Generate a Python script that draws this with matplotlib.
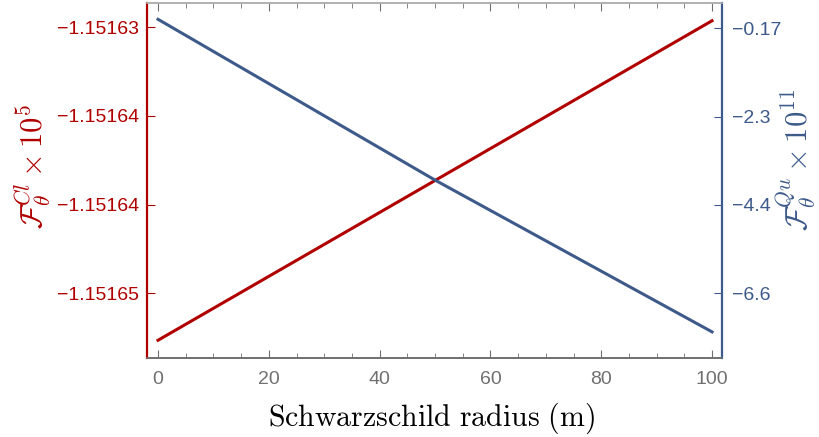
import matplotlib
matplotlib.use("Agg")
import matplotlib.pyplot as plt
from matplotlib.ticker import MultipleLocator

plt.rcParams['mathtext.fontset'] = 'cm'

# data
radius = [0, 50, 100]
f_classical = [-1.1516547, -1.1516421, -1.1516295]   # x 10^5
f_quantum = [0.047, -3.83, -7.49]                     # x 10^11

left_ticks = [-1.151630, -1.151637, -1.151644, -1.151651]
left_labels = ['\u22121.15163', '\u22121.15164', '\u22121.15164', '\u22121.15165']
right_ticks = [-0.17, -2.30, -4.43, -6.56]
right_labels = ['\u22120.17', '\u22122.3', '\u22124.4', '\u22126.6']
x_ticks = [0, 20, 40, 60, 80, 100]

red = '#B00000'
blue = '#3D5A8A'
gray = '#707070'

fig = plt.figure(figsize=(8.19, 4.37), dpi=100)
ax = fig.add_axes([147/819, 1-358/437, (722-147)/819, (358-3)/437])
ax2 = ax.twinx()

ax.plot(radius, f_classical, color=red, lw=2.2, zorder=3)
ax2.plot(radius, f_quantum, color=blue, lw=2.2)

ax.set_xlim(-1.99, 101.8)
ax.set_ylim(-1.1516561, -1.1516281)
ax2.set_ylim(-8.12, 0.44)

ax.set_xticks(x_ticks)
ax.set_xticklabels([str(t) for t in x_ticks])
ax.xaxis.set_minor_locator(MultipleLocator(5))
ax.tick_params(axis='x', which='both', direction='in', colors=gray,
               labelsize=14, top=True, pad=9)
ax.tick_params(axis='x', which='major', length=6)
ax.tick_params(axis='x', which='minor', length=3.5)

ax.set_yticks(left_ticks)
ax.set_yticklabels(left_labels)
ax.tick_params(axis='y', direction='in', colors=red, labelsize=14, length=6, pad=6)
ax2.set_yticks(right_ticks)
ax2.set_yticklabels(right_labels)
ax2.tick_params(axis='y', direction='in', colors=blue, labelsize=14, length=6, pad=7)

for a in (ax, ax2):
    a.spines['top'].set_color('#b0b0b0')
    a.spines['bottom'].set_color(gray)
    a.spines['left'].set_color(red)
    a.spines['right'].set_color(blue)
    for s in a.spines.values():
        s.set_linewidth(1.2)
ax.spines['left'].set_linewidth(1.6)
ax2.spines['right'].set_linewidth(1.6)

for lab in ax.get_yticklabels() + ax2.get_yticklabels() + ax.get_xticklabels():
    lab.set_family('Liberation Sans')

fig.text(432/819, 1-418/437, r'$\mathrm{Schwarzschild\ radius\ (m)}$', fontsize=21.5,
         color='black', ha='center', va='center')
fig.text(33/819, 1-167/437, r'$\mathcal{F}_{\theta}^{Cl}\times 10^{5}$', rotation=90,
         color=red, fontsize=22, ha='center', va='center')
fig.text(796/819, 1-160/437, r'$\mathcal{F}_{\theta}^{Qu}\times 10^{11}$', rotation=90,
         color=blue, fontsize=22, ha='center', va='center')

fig.savefig('out.png', dpi=100)
